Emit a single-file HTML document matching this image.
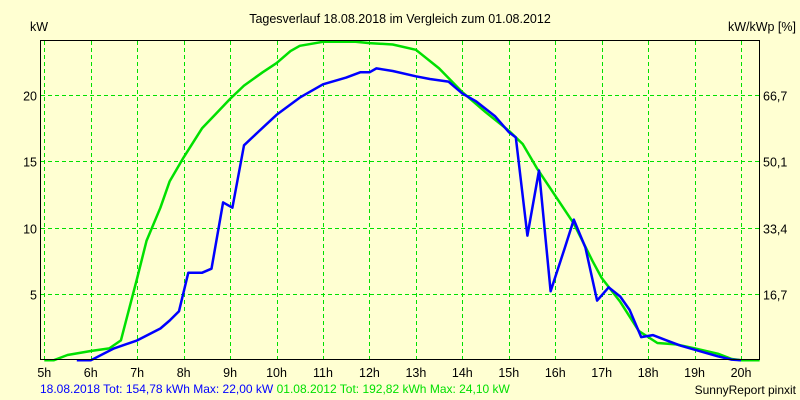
<!DOCTYPE html>
<html><head><meta charset="utf-8"><style>
body{margin:0;background:#ffffd2;}
svg{display:block;font-family:"Liberation Sans",sans-serif;}
</style></head><body>
<svg id="chart" width="800" height="400" viewBox="0 0 800 400">
<rect width="800" height="400" fill="#ffffd2"/>
<text x="400" y="23" font-size="12.5" text-anchor="middle">Tagesverlauf 18.08.2018 im Vergleich zum 01.08.2012</text>
<text x="30" y="31" font-size="12.5">kW</text>
<text x="796" y="31" font-size="12.5" text-anchor="end">kW/kWp [%]</text>
<g id="grid"></g><g id="ticks"></g><g id="series"></g>
<line x1="40.5" y1="40" x2="40.5" y2="360" stroke="#000"/>
<line x1="40" y1="40.5" x2="760" y2="40.5" stroke="#000"/>
<line x1="759.5" y1="40" x2="759.5" y2="360" stroke="#000"/>
<line x1="40" y1="359.5" x2="760" y2="359.5" stroke="#000"/>
<text x="40" y="393" font-size="12" fill="#0000ff">18.08.2018 Tot: 154,78 kWh Max: 22,00 kW <tspan fill="#00e000">01.08.2012 Tot: 192,82 kWh Max: 24,10 kW</tspan></text>
<text x="796" y="394" font-size="12" text-anchor="end">SunnyReport pinxit</text>
</svg>
<script>
const hourTicks=[5,6,7,8,9,10,11,12,13,14,15,16,17,18,19,20];
const kwTicks=[5,10,15,20];
const pctLabels=["16,7","33,4","50,1","66,7"];
const blueHours=[5.7,6.0,6.5,7.0,7.5,7.7,7.9,8.1,8.4,8.6,8.85,9.05,9.3,9.6,10,10.5,11,11.5,11.8,12,12.15,12.5,13,13.3,13.7,14,14.3,14.7,15,15.15,15.4,15.65,15.9,16.2,16.4,16.65,16.9,17.15,17.4,17.6,17.85,18.1,18.4,18.7,19,19.5,19.8,20];
const blueKw=[0,0,0.9,1.5,2.4,3,3.7,6.6,6.6,6.9,11.9,11.5,16.2,17.2,18.5,19.8,20.8,21.3,21.7,21.7,22.0,21.8,21.4,21.2,21.0,20.1,19.5,18.4,17.2,16.8,9.4,14.3,5.2,8.4,10.6,8.5,4.5,5.5,4.8,3.8,1.75,1.9,1.5,1.1,0.8,0.3,0.05,0];
const greenHours=[5.0,5.2,5.5,6,6.4,6.65,7.0,7.2,7.5,7.7,8.0,8.4,8.7,9.0,9.3,9.7,10.0,10.3,10.5,11,11.7,12,12.5,13,13.5,14,14.5,15,15.3,15.6,16,16.4,16.8,17,17.4,17.8,18.2,18.6,19,19.5,19.8,20,20.4];
const greenKw=[0,0,0.4,0.7,0.9,1.5,6.2,9,11.5,13.5,15.3,17.5,18.6,19.7,20.7,21.7,22.4,23.3,23.7,24.0,24.0,23.9,23.8,23.4,22.0,20.2,18.7,17.3,16.3,14.5,12.4,10.3,7.5,6.2,4.4,2.2,1.3,1.2,0.9,0.5,0.1,0,0];
const NS="http://www.w3.org/2000/svg";
function xs(h){return 44.3+46.45*(h-5);}
function ys(k){return 360.3-13.27*k;}
function mk(tag,attrs,parent){const e=document.createElementNS(NS,tag);for(const k in attrs)e.setAttribute(k,attrs[k]);parent.appendChild(e);return e;}
const grid=document.getElementById('grid'),ticks=document.getElementById('ticks'),series=document.getElementById('series');
hourTicks.forEach(h=>{
  const x=Math.round(xs(h))+0.5;
  const l=mk('line',{x1:x,y1:41,x2:x,y2:359,stroke:'#00e000','stroke-dasharray':'4 3'},grid);
  
  
  const t=mk('text',{x:xs(h),y:377,'font-size':12.5,'text-anchor':'middle'},ticks);
  t.textContent=h+'h';
  
  
});
kwTicks.forEach((k,i)=>{
  const y=Math.round(ys(k))+0.5;
  const l=mk('line',{x1:41,y1:y,x2:759,y2:y,stroke:'#00e000','stroke-dasharray':'4 3'},grid);
  
  
  const t=mk('text',{x:37,y:y+5,'font-size':12.5,'text-anchor':'end'},ticks);
  t.textContent=k;
  
  
  const r=mk('text',{x:763,y:y+5,'font-size':12.5},ticks);
  r.textContent=pctLabels[i];
  
  
});
function line(hs,ks,color,name){
  const pts=hs.map((h,i)=>xs(h).toFixed(1)+','+ys(ks[i]).toFixed(1)).join(' ');
  const p=mk('polyline',{points:pts,fill:'none',stroke:color,'stroke-width':2.5,'stroke-linejoin':'round'},series);
  
  
}
line(greenHours,greenKw,'#00e000','series-2012-line');
line(blueHours,blueKw,'#0000ff','series-2018-line');
</script>
</body></html>
